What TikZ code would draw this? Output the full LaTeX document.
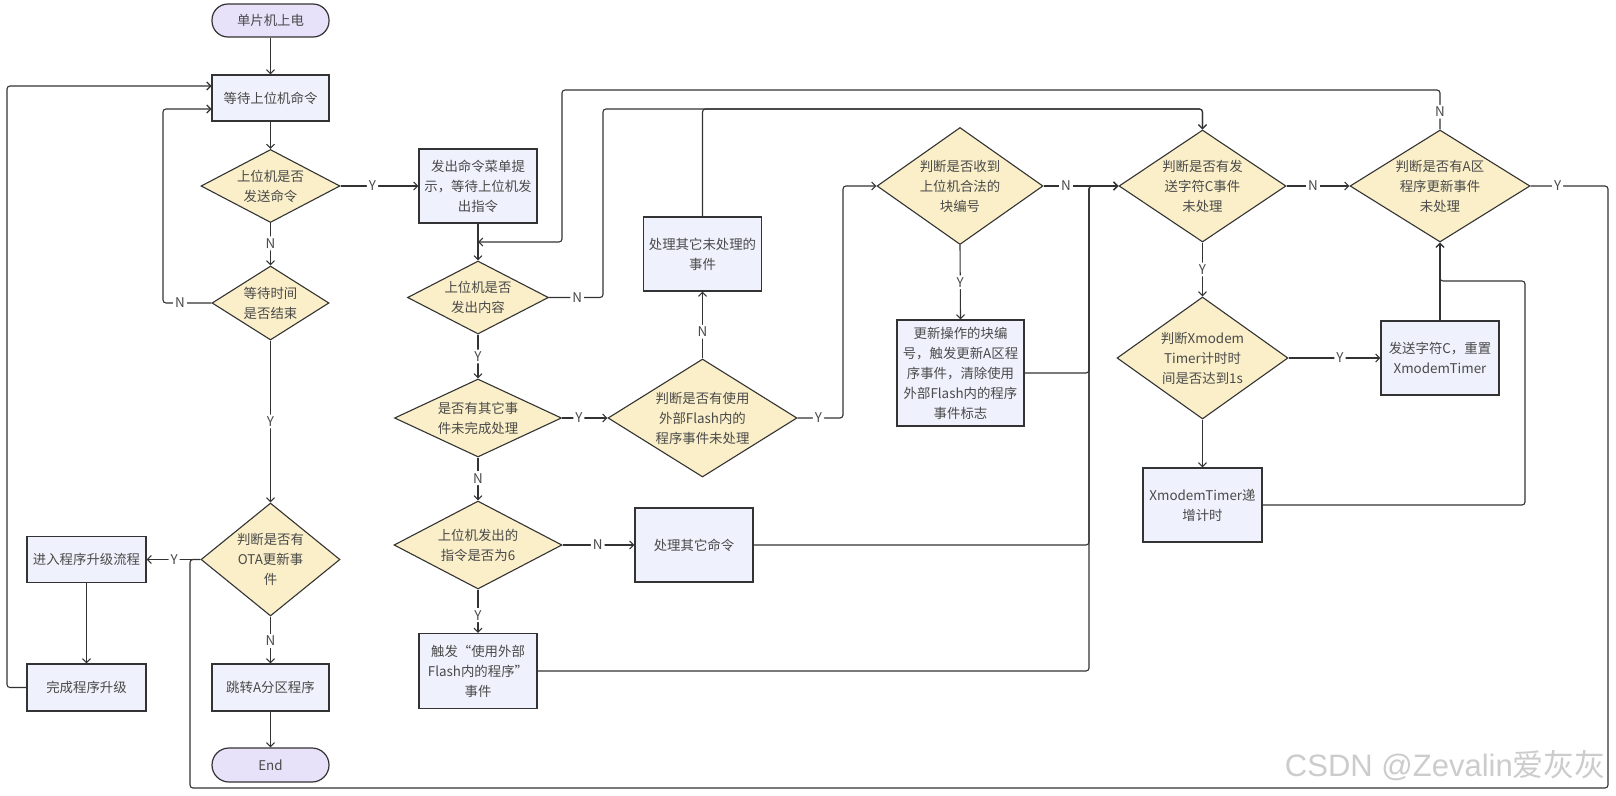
\documentclass[tikz,border=0pt]{standalone}
\usepackage{fontspec}
\setmainfont{Noto Sans CJK SC}
\newfontfamily\wmfont{Liberation Sans}
\usetikzlibrary{shapes.geometric,arrows.meta,calc}
\definecolor{boxfill}{HTML}{EFF2FC}
\definecolor{decfill}{HTML}{FAEFC8}
\definecolor{termfill}{HTML}{E8E1FA}
\definecolor{ink}{HTML}{333333}
\definecolor{txtc}{HTML}{4A4A4A}
\begin{document}
\begin{tikzpicture}[x=1pt,y=-1pt,
  txt/.style={font=\fontsize{13.4}{20}\selectfont, text=txtc, align=center},
  every label/.style={txt, inner sep=0pt},
  box/.style={draw=ink, fill=boxfill, line width=1.2pt, inner sep=0pt, txt},
  term/.style={draw=ink, fill=termfill, line width=1.2pt, rounded corners=16pt, inner sep=0pt, txt},
  dec/.style={diamond, draw=ink, fill=decfill, line width=1.1pt, inner sep=0pt},
  conn/.style={draw=ink, line width=1.1pt, rounded corners=3pt},
  arr/.style={conn, -{Straight Barb[length=4pt,width=8pt]}},
  lbl/.style={fill=white, inner sep=2pt, font=\fontsize{13.4}{16}\selectfont, text=txtc}]
\fill[white] (0,0) rectangle (1616,795);
\useasboundingbox (0,0) rectangle (1616,795);

% ---- nodes ----
\node[term, minimum width=117, minimum height=33] (start) at (270.5,20.5) {单片机上电};
\node[box, minimum width=117, minimum height=46] (wait) at (270.5,98) {等待上位机命令};
\node[dec, minimum width=139, minimum height=73, label={center:上位机是否\\发送命令}] (d1) at (270.5,186) {};
\node[dec, minimum width=117, minimum height=74, label={center:等待时间\\是否结束}] (d2) at (270.5,303) {};
\node[dec, minimum width=139, minimum height=113, label={center:判断是否有\\OTA更新事\\件}] (ota) at (270.5,559.5) {};
\node[box, minimum width=119, minimum height=46] (up1) at (86.5,559.5) {进入程序升级流程};
\node[box, minimum width=119, minimum height=47] (up2) at (86.5,687.5) {完成程序升级};
\node[box, minimum width=117, minimum height=47] (jump) at (270.5,687.5) {跳转A分区程序};
\node[term, minimum width=117, minimum height=34, rounded corners=17pt] (endn) at (270.5,765) {End};

\node[box, minimum width=118, minimum height=74] (menu) at (478,186) {发出命令菜单提\\示，等待上位机发\\出指令};
\node[dec, minimum width=141, minimum height=73, label={center:上位机是否\\发出内容}] (d3) at (478,297.5) {};
\node[dec, minimum width=167, minimum height=78, label={center:是否有其它事\\件未完成处理}] (d4) at (478,418) {};
\node[dec, minimum width=168, minimum height=88, label={center:上位机发出的\\指令是否为6}] (d6) at (478,545) {};
\node[box, minimum width=118, minimum height=75] (trig) at (478,671) {触发“使用外部\\Flash内的程序”\\事件};

\node[box, minimum width=118, minimum height=74] (p1) at (702.5,254) {处理其它未处理的\\事件};
\node[dec, minimum width=189, minimum height=118, label={center:判断是否有使用\\外部Flash内的\\程序事件未处理}] (d5) at (702.5,418) {};
\node[box, minimum width=118, minimum height=74] (p2) at (694,545) {处理其它命令};

\node[dec, minimum width=166, minimum height=117, label={center:判断是否收到\\上位机合法的\\块编号}] (d7) at (960,186) {};
\node[box, minimum width=127, minimum height=106] (upd) at (960.5,373) {更新操作的块编\\号，触发更新A区程\\序事件，清除使用\\外部Flash内的程序\\事件标志};

\node[dec, minimum width=167, minimum height=112, label={center:判断是否有发\\送字符C事件\\未处理}] (C) at (1202.5,186) {};
\node[dec, minimum width=171, minimum height=122, label={center:判断Xmodem\\Timer计时时\\间是否达到1s}] (X) at (1202.5,358) {};
\node[box, minimum width=119, minimum height=74] (inc) at (1202.5,505) {XmodemTimer递\\增计时};

\node[dec, minimum width=180, minimum height=112, label={center:判断是否有A区\\程序更新事件\\未处理}] (A) at (1440,186) {};
\node[box, minimum width=118, minimum height=74] (sendC) at (1440,358) {发送字符C，重置\\XmodemTimer};

\coordinate (in1) at (211.5,86);
\coordinate (in2) at (211.5,109);
\coordinate (j1) at (478,242);

% ---- connectors ----
\draw[arr] (start) -- (wait);
\draw[arr] (wait) -- (d1);
\draw[arr] (d1.east) -- node[lbl,pos=.41]{Y} (menu.west);
\draw[arr] (d1.south) -- node[lbl,pos=.48]{N} (d2.north);
\draw[arr] (d2.west) -- node[lbl,pos=.65]{N} (163,303) -- (163,109) -- (in2);
\draw[arr] (d2.south) -- node[lbl,pos=.5]{Y} (ota.north);
\draw[arr] (ota.west) -- node[lbl,pos=.49]{Y} (up1.east);
\draw[arr] (ota.south) -- node[lbl,pos=.52]{N} (jump.north);
\draw[arr] (jump) -- (endn);
\draw[arr] (up1) -- (up2);
\draw[arr] (up2.west) -- (7,687.5) -- (7,86) -- (in1);

\draw[arr] (menu) -- (d3);
\draw[arr] (d3.south) -- node[lbl,pos=.5]{Y} (d4.north);
\draw[arr] (d4.south) -- node[lbl,pos=.48]{N} (d6.north);
\draw[arr] (d6.south) -- node[lbl,pos=.59]{Y} (trig.north);
\draw[arr] (d6.east) -- node[lbl,pos=.49]{N} (p2.west);
\draw[arr] (d4.east) -- node[lbl,pos=.37]{Y} (d5.west);
\draw[arr] (d5.north) -- node[lbl,pos=.4]{N} (p1.south);
\draw[arr] (d3.east) -- node[lbl,pos=.52]{N} (603,297.5) -- (603,109) -- (1202.5,109) -- (C.north);
\draw[arr] (p1.north) -- (702.5,109) -- (1202.5,109) -- (C.north);
\draw[arr] (d5.east) -- node[lbl,pos=.46]{Y} (843,418) -- (843,186) -- (d7.west);
\draw[arr] (d7.east) -- node[lbl,pos=.3]{N} (C.west);
\draw[arr] (d7.south) -- node[lbl,pos=.5]{Y} (upd.north);
\draw[arr] (upd.east) -- (1089,373) -- (1089,186) -- (C.west);
\draw[arr] (p2.east) -- (1089,545) -- (1089,186) -- (C.west);
\draw[arr] (trig.east) -- (1089,671) -- (1089,186) -- (C.west);

\draw[arr] (C.east) -- node[lbl,pos=.42]{N} (A.west);
\draw[arr] (C.south) -- node[lbl,pos=.5]{Y} (X.north);
\draw[arr] (X.east) -- node[lbl,pos=.56]{Y} (sendC.west);
\draw[arr] (X.south) -- (inc.north);
\draw[arr] (sendC.north) -- (A.south);
\draw[arr] (inc.east) -- (1525,505) -- (1525,281) -- (1440,281) -- (A.south);
\draw[arr] (A.north) -- node[lbl,pos=.45]{N} (1440,90) -- (562,90) -- (562,242) -- (j1);
\draw[conn] (A.east) -- node[lbl,pos=.35]{Y} (1608,186) -- (1608,788) -- (190,788) -- (190,559.5) -- (ota.west);

% watermark
\node[anchor=east, font=\fontsize{31}{31}\selectfont, text=black!20, inner sep=0pt] (wm) at (1606,766) {{\wmfont CSDN @Zevalin}爱灰灰};
\end{tikzpicture}
\end{document}
